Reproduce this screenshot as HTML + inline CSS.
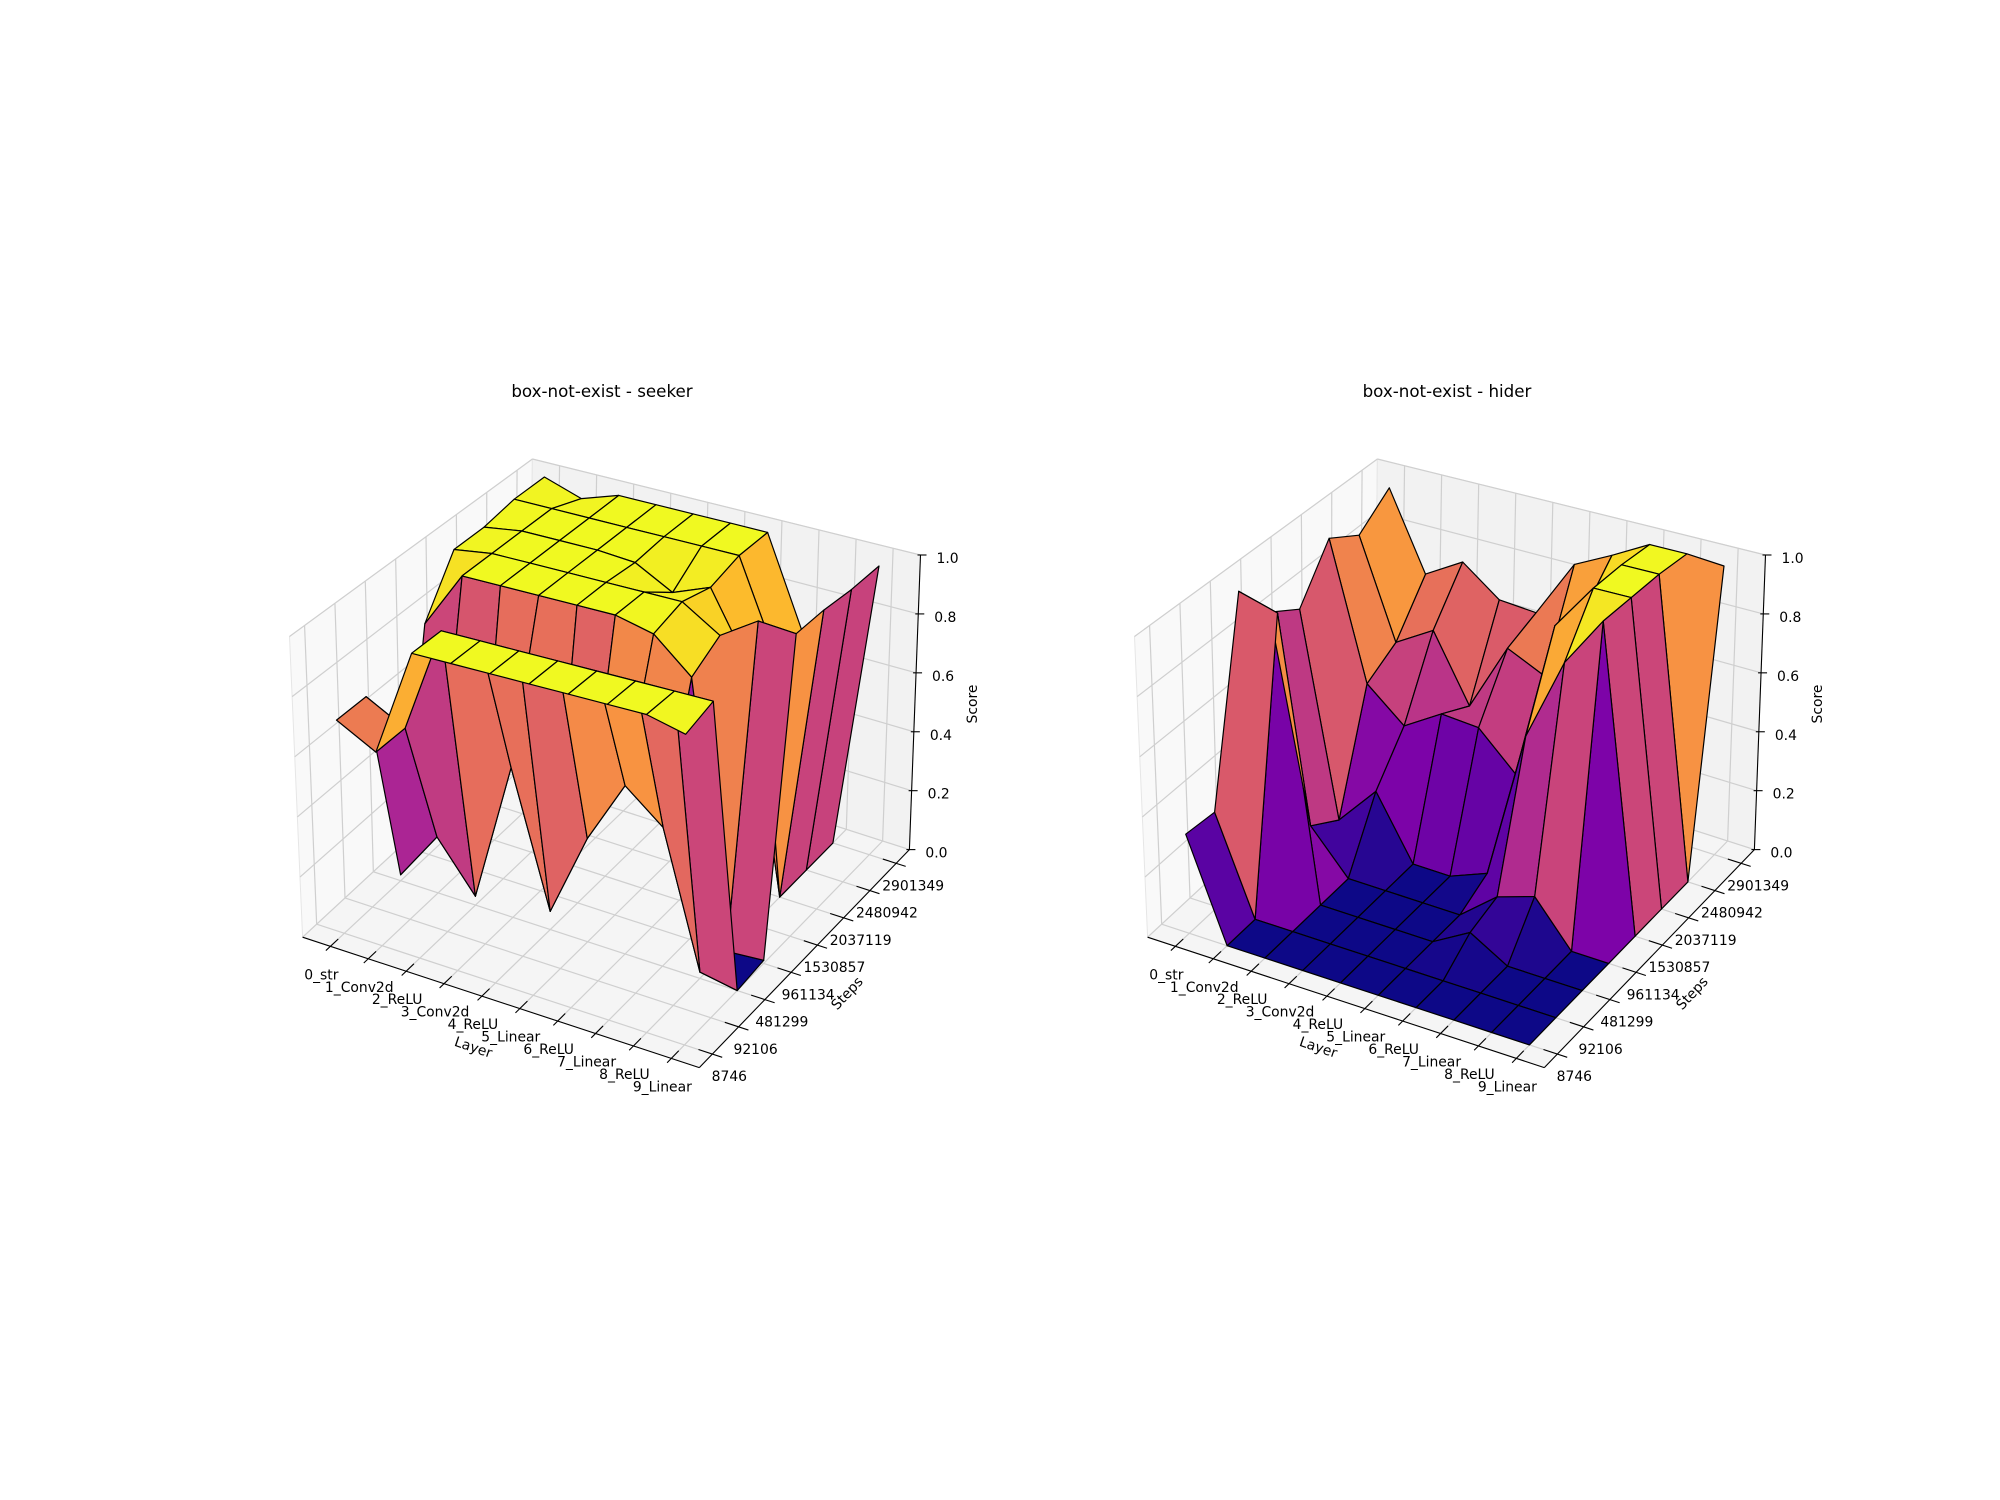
<!DOCTYPE html>
<html><head><meta charset="utf-8"><style>
html,body{margin:0;padding:0;background:#fff}
svg{display:block}
text{font-family:"DejaVu Sans","Liberation Sans",sans-serif;fill:#000}
</style></head><body>
<svg id="fig" width="2000" height="1500" viewBox="0 0 2000 1500" xmlns="http://www.w3.org/2000/svg">
<rect width="2000" height="1500" fill="#fff"/>
</svg>
<script>
const layers=['0_str','1_Conv2d','2_ReLU','3_Conv2d','4_ReLU','5_Linear','6_ReLU','7_Linear','8_ReLU','9_Linear'];
const steps=['8746','92106','481299','961134','1530857','2037119','2480942','2901349'];
const zTicks=[0,0.2,0.4,0.6,0.8,1.0];
// rows = steps (front 8746 -> back 2901349), columns = layers
const seekerScores=[
[0.71,0.64,1,1,1,1,1,1,1,0.97],
[0.71,0.64,1,1,1,1,1,1,1,1],
[0.02,0.19,0.03,0.5,0.06,0.34,0.55,0.45,0.02,0],
[0.8,1,1,1,1,1,0.97,0.86,0,0.01],
[0.98,1,1,1,1,1,1,0.92,1,0.99],
[0.98,1,1,1,0.99,0.92,0.97,0.75,0,0.99],
[1,1,1,1,1,1,1,0.7,0,0.98],
[1,0.955,1,1,1,1,1,0.69,0,0.98]
];
const hiderScores=[
[0.33,0,0,0,0,0,0,0,0,0],
[0.32,0,0,0,0,0,0,0,0,0],
[0.99,0.95,0,0,0,0,0.07,0,0,0],
[0.84,0.14,0,0,0,0,0.1,0.14,0,0],
[0.77,0.07,0.21,0,0,0.05,0.55,0.83,1,0],
[0.94,0.46,0.35,0.43,0.42,0.3,0.84,1,1,0],
[0.87,0.52,0.6,0.37,0.61,0.55,0.8,1,1,0],
[0.96,0.68,0.76,0.66,0.65,0.855,0.92,0.99,0.99,0.98]
];
const titles=['box-not-exist - seeker','box-not-exist - hider'];

const NS='http://www.w3.org/2000/svg';
const svg=document.getElementById('fig');
const A000=[302.6,937.2],A100=[699.3,1067.6],A110=[909.4,849.6],A010=[529.3,727.4];
const T000=[289.5,636.5],T100=[701,743.9],T110=[920.5,555],T010=[532.4,459];
function bil(a,b,c,d,u,v){
  return [a[0]*(1-u)*(1-v)+b[0]*u*(1-v)+c[0]*u*v+d[0]*(1-u)*v,
          a[1]*(1-u)*(1-v)+b[1]*u*(1-v)+c[1]*u*v+d[1]*(1-u)*v];
}
function P(off,u,v,w){
  const b=bil(A000,A100,A110,A010,u,v),t=bil(T000,T100,T110,T010,u,v);
  return [off+b[0]+w*(t[0]-b[0]), b[1]+w*(t[1]-b[1])];
}
function xu(i){return 0.07+0.0955*i;}
function yv(j){return 0.062+0.125*j;}
const stops=[[13,8,135],[75,3,161],[125,3,168],[168,34,150],[203,70,121],[229,107,93],[248,148,65],[253,195,40],[240,249,33]];
function plasma(t){
  t=Math.max(0,Math.min(1,t));const s=t*8,k=Math.min(7,Math.floor(s)),f=s-k;
  const a=stops[k],b=stops[k+1];
  return 'rgb('+a.map((x,n)=>Math.round(x+(b[n]-x)*f)).join(',')+')';
}
function el(tag,attrs,parent){const e=document.createElementNS(NS,tag);for(const k in attrs)e.setAttribute(k,attrs[k]);(parent||svg).appendChild(e);return e;}
function line(g,p,q,stroke,w){return el('line',{x1:p[0],y1:p[1],x2:q[0],y2:q[1],stroke:stroke,'stroke-width':w},g);}
function poly(g,pts,fill,stroke,sw){return el('polygon',{points:pts.map(p=>p[0].toFixed(1)+','+p[1].toFixed(1)).join(' '),fill:fill,stroke:stroke,'stroke-width':sw,'stroke-linejoin':'round'},g);}

function drawPlot(k,off,Z){
  const g=el('g',{});
  
  
  const t=el('text',{x:602+off,y:397,'text-anchor':'middle','font-size':'16.7'},g);
  t.textContent=titles[k];
  
  
  const pl=poly(g,[P(off,0,0,0),P(off,0,1,0),P(off,0,1,1),P(off,0,0,1)],'#f9f9f9','#e6e6e6',1);
  
  
  const pb=poly(g,[P(off,0,1,0),P(off,1,1,0),P(off,1,1,1),P(off,0,1,1)],'#f2f2f2','#e6e6e6',1);
  
  
  const pf=poly(g,[P(off,0,0,0),P(off,1,0,0),P(off,1,1,0),P(off,0,1,0)],'#f5f5f5','#e6e6e6',1);
  
  
  const gc='#cfcfcf';
  const grid=el('g',{},g);
  
  
  for(let j=0;j<steps.length;j++){const v=yv(j);
    line(grid,P(off,0,v,0),P(off,0,v,1),gc,1.2);line(grid,P(off,0,v,0),P(off,1,v,0),gc,1.2);}
  for(let i=0;i<layers.length;i++){const u=xu(i);
    line(grid,P(off,u,1,0),P(off,u,1,1),gc,1.2);line(grid,P(off,u,0,0),P(off,u,1,0),gc,1.2);}
  zTicks.forEach(z=>{line(grid,P(off,0,0,z),P(off,0,1,z),gc,1.2);line(grid,P(off,0,1,z),P(off,1,1,z),gc,1.2);});
  const ax=el('g',{},g);
  
  
  line(ax,P(off,0,0,0),P(off,1,0,0),'#000',1.1);
  line(ax,P(off,1,0,0),P(off,1,1,0),'#000',1.1);
  line(ax,P(off,1,1,0),P(off,1,1,1),'#000',1.1);
  layers.forEach((name,i)=>{const u=xu(i);
    line(ax,P(off,u,0.035,0),P(off,u,-0.02,0),'#000',1.1);
    const p=P(off,u,0,0);
    const tx=el('text',{x:p[0]-9,y:p[1]+33,'text-anchor':'middle','font-size':'13.9'},ax);
    tx.textContent=name;
    
    
  });
  steps.forEach((name,j)=>{const v=yv(j);
    line(ax,P(off,0.965,v,0),P(off,1.025,v,0),'#000',1.1);
    const p=P(off,1,v,0);
    const tx=el('text',{x:p[0]+17,y:p[1]+27,'text-anchor':'middle','font-size':'13.9'},ax);
    tx.textContent=name;
    
    
  });
  zTicks.forEach(z=>{const p=P(off,1,1,z);
    line(ax,[p[0]-3,p[1]],[p[0]+6,p[1]],'#000',1.1);
    const tx=el('text',{x:p[0]+16,y:p[1]+8,'font-size':'13.9'},ax);
    tx.textContent=z.toFixed(1);
    
    
  });
  const lx=el('text',{x:473.5+off,y:1052,'text-anchor':'middle','font-size':'13.9',transform:'rotate(18.6 '+(473.5+off)+' 1047)'},ax);
  lx.textContent='Layer';
  
  
  const ly=el('text',{x:846.8+off,y:998,'text-anchor':'middle','font-size':'13.9',transform:'rotate(-46.7 '+(846.8+off)+' 993)'},ax);
  ly.textContent='Steps';
  
  
  const lz=el('text',{x:972+off,y:709,'text-anchor':'middle','font-size':'13.9',transform:'rotate(-90 '+(972+off)+' 704)'},ax);
  lz.textContent='Score';
  
  
  const faces=[];
  for(let j=0;j<Z.length-1;j++)for(let i=0;i<Z[0].length-1;i++){
    const vs=[[i,j],[i+1,j],[i+1,j+1],[i,j+1]];
    const avg=vs.reduce((s,q)=>s+Z[q[1]][q[0]],0)/4;
    const uc=xu(i+0.5),vc=yv(j+0.5);
    const depth=0.433*uc-0.75*vc+0.5*0.75*avg;
    faces.push({vs,avg,depth});
  }
  let mn=Infinity,mx=-Infinity;faces.forEach(f=>{mn=Math.min(mn,f.avg);mx=Math.max(mx,f.avg);});
  faces.sort((a,b)=>a.depth-b.depth);
  const sg=el('g',{},g);
  
  
  faces.forEach(f=>{
    const pts=f.vs.map(q=>P(off,xu(q[0]),yv(q[1]),Z[q[1]][q[0]]));
    const pg=poly(sg,pts,plasma((f.avg-mn)/((mx-mn)||1)),'#000',1.2);
    
    
  });
}
drawPlot(0,0,seekerScores);
drawPlot(1,845,hiderScores);
</script>
</body></html>
